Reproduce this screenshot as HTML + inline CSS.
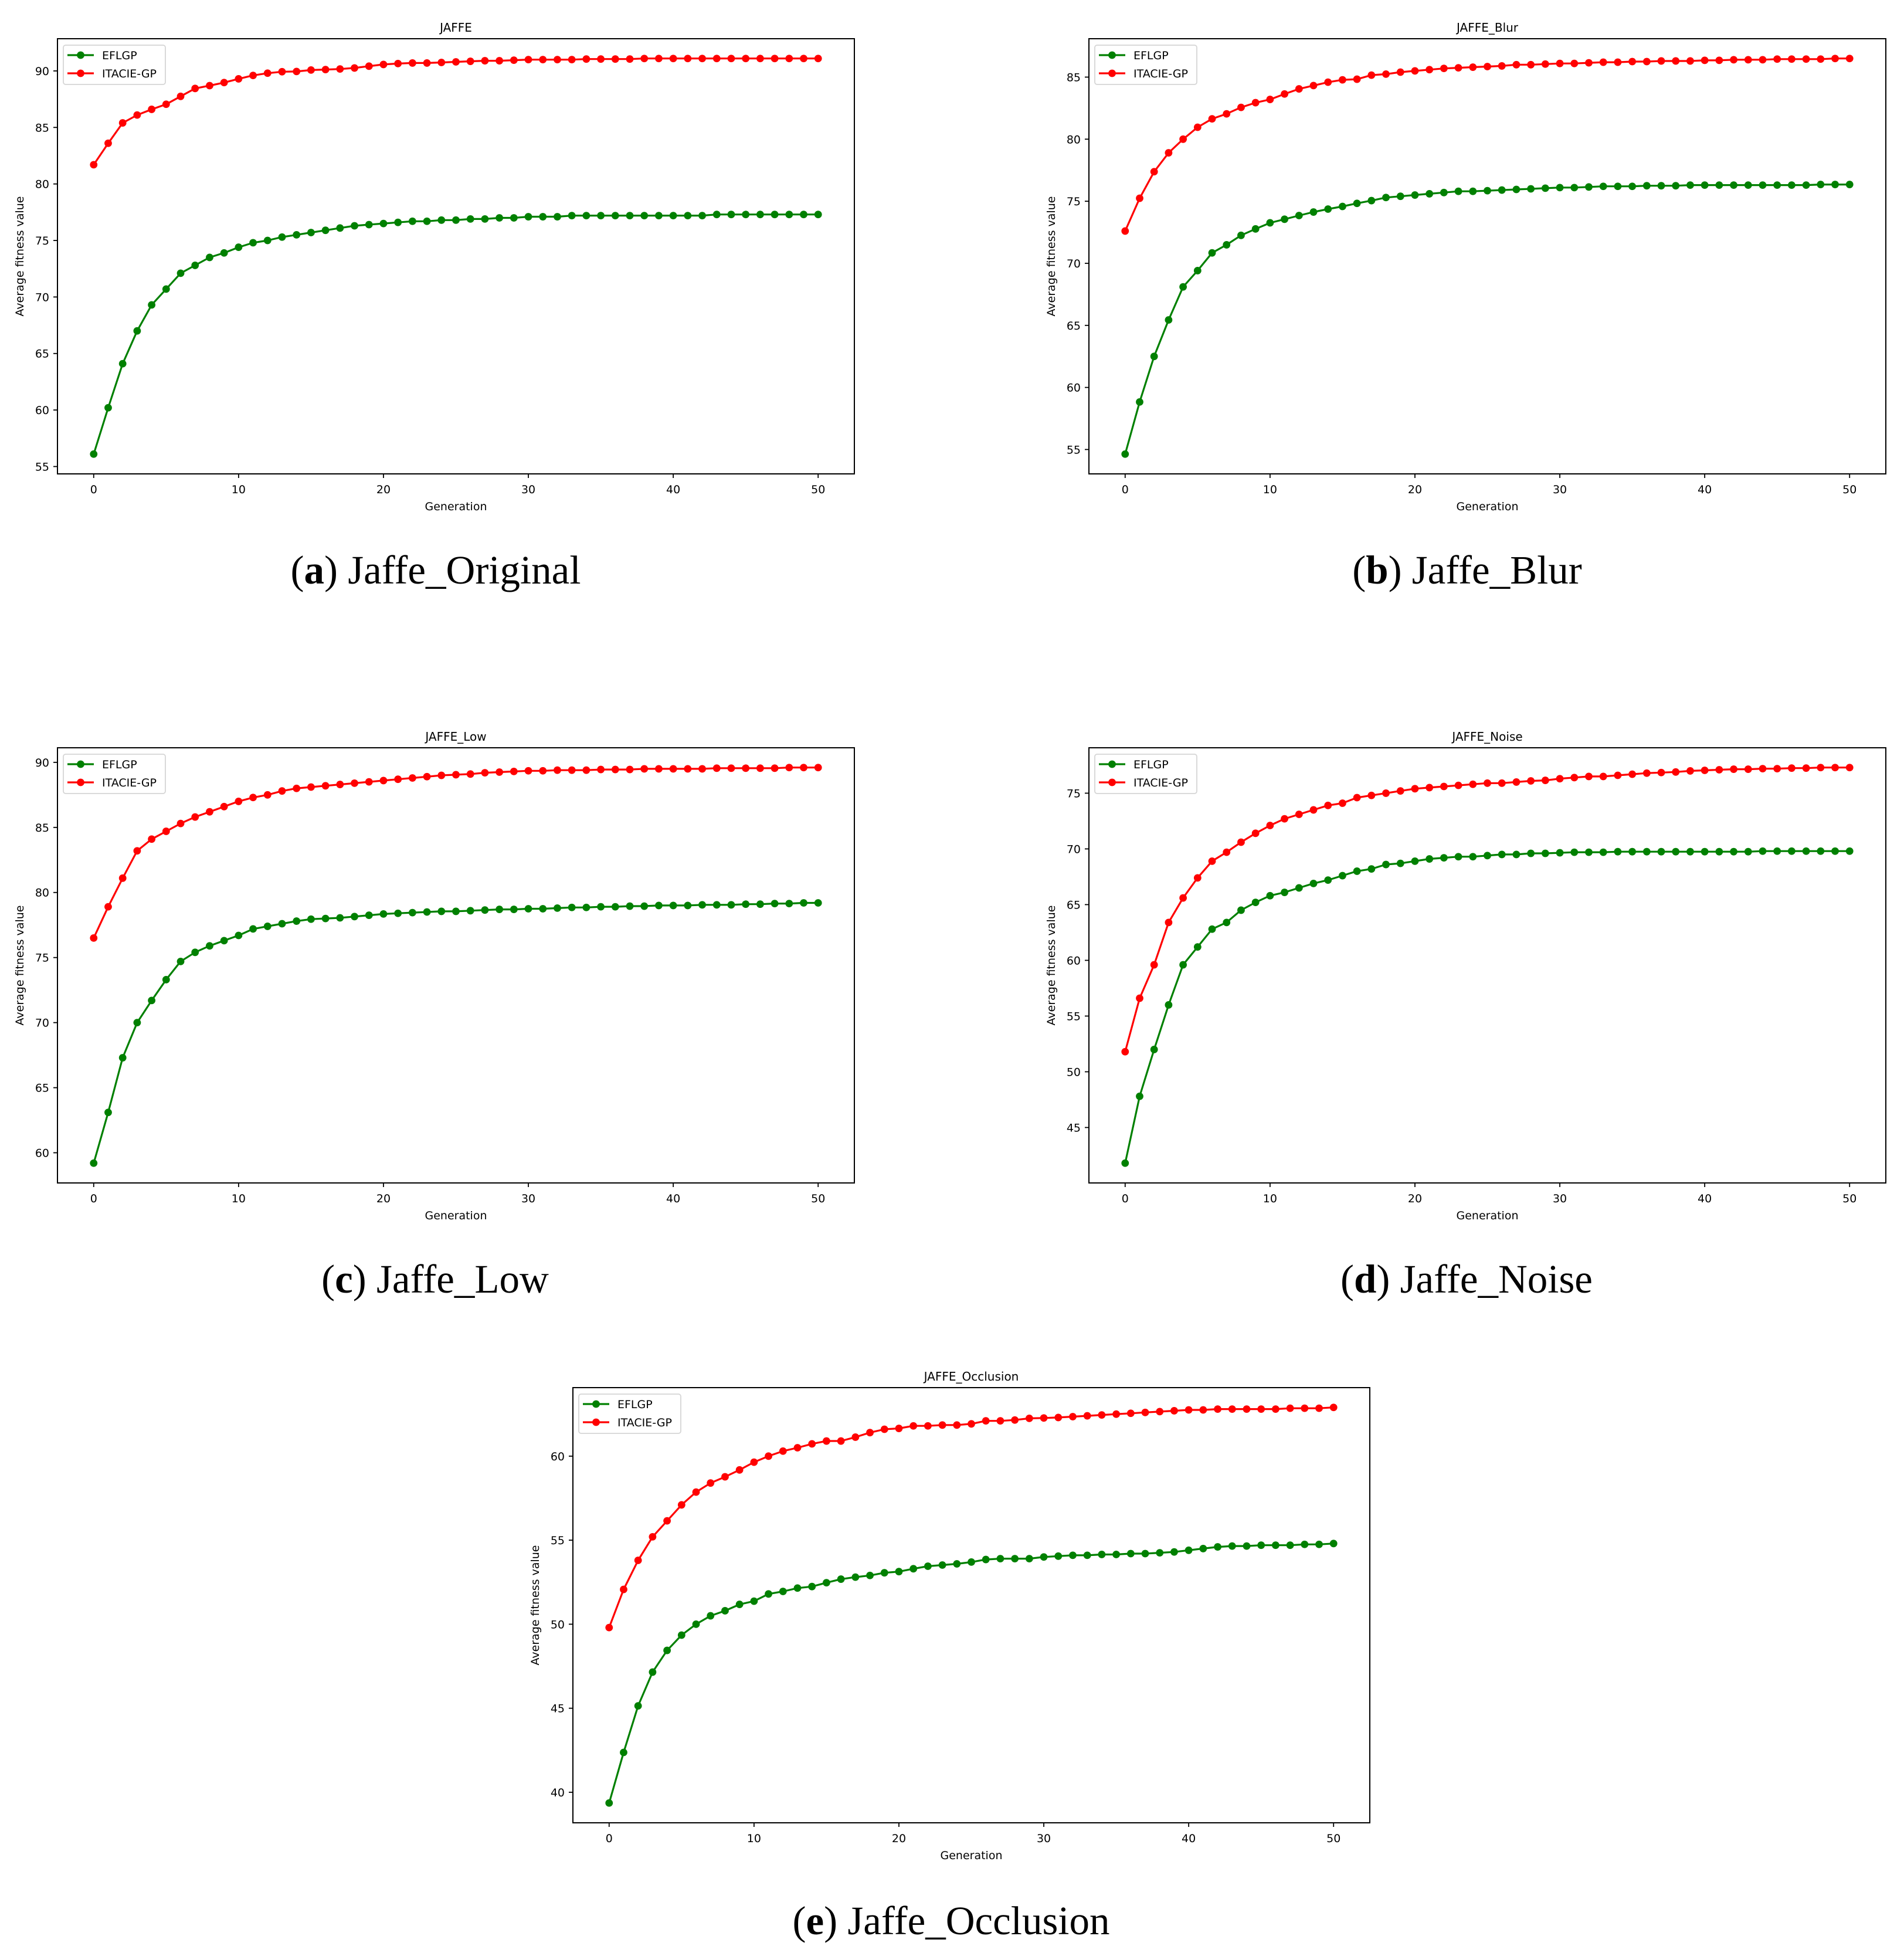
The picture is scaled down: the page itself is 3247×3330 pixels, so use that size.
<!DOCTYPE html>
<html><head><meta charset="utf-8"><title>JAFFE fitness curves</title>
<style>
html,body{margin:0;padding:0;background:#fff;}
svg{display:block;}
</style></head>
<body>
<svg id="fig" width="3247" height="3330" viewBox="0 0 3247 3330" xmlns="http://www.w3.org/2000/svg"></svg>
<script>
const generations = Array.from({length:51},(_,i)=>i);
const xTicks = [0,10,20,30,40,50];
const legendLabels = ["EFLGP","ITACIE-GP"];
const titles = ["JAFFE","JAFFE_Blur","JAFFE_Low","JAFFE_Noise","JAFFE_Occlusion"];
const captionLetters = ["a","b","c","d","e"];
const captionNames = ["Jaffe_Original","Jaffe_Blur","Jaffe_Low","Jaffe_Noise","Jaffe_Occlusion"];

const origEFLGP = [56.1,60.2,64.1,67.0,69.3,70.7,72.1,72.8,73.5,73.9,74.4,74.8,75.0,75.3,75.5,75.7,75.9,76.1,76.3,76.4,76.5,76.6,76.7,76.7,76.8,76.8,76.9,76.9,77.0,77.0,77.1,77.1,77.1,77.2,77.2,77.2,77.2,77.2,77.2,77.2,77.2,77.2,77.2,77.3,77.3,77.3,77.3,77.3,77.3,77.3,77.3];
const origITACIE = [81.7,83.6,85.4,86.1,86.6,87.05,87.75,88.45,88.7,88.97,89.3,89.6,89.8,89.93,89.95,90.08,90.12,90.17,90.26,90.42,90.57,90.65,90.7,90.7,90.75,90.8,90.85,90.9,90.9,90.95,91.0,91.0,91.0,91.0,91.05,91.05,91.05,91.05,91.1,91.1,91.1,91.1,91.1,91.1,91.1,91.1,91.1,91.1,91.1,91.1,91.1];
const blurEFLGP = [54.63,58.83,62.5,65.44,68.1,69.41,70.84,71.49,72.25,72.77,73.26,73.55,73.85,74.13,74.37,74.58,74.83,75.05,75.3,75.4,75.5,75.6,75.7,75.8,75.8,75.85,75.9,75.95,76.0,76.05,76.1,76.1,76.15,76.2,76.2,76.2,76.25,76.25,76.25,76.3,76.3,76.3,76.3,76.3,76.3,76.3,76.3,76.3,76.35,76.35,76.35];
const blurITACIE = [72.6,75.24,77.38,78.9,80.0,80.96,81.64,82.04,82.56,82.94,83.2,83.64,84.05,84.32,84.59,84.78,84.83,85.16,85.24,85.4,85.5,85.6,85.7,85.75,85.8,85.85,85.9,86.0,86.0,86.05,86.1,86.1,86.15,86.2,86.2,86.25,86.25,86.3,86.3,86.3,86.35,86.35,86.4,86.4,86.4,86.45,86.45,86.45,86.45,86.5,86.5];
const lowEFLGP = [59.2,63.1,67.3,70.0,71.7,73.3,74.7,75.4,75.9,76.3,76.7,77.2,77.4,77.6,77.8,77.95,78.0,78.05,78.15,78.25,78.35,78.4,78.45,78.5,78.55,78.55,78.6,78.65,78.7,78.7,78.75,78.75,78.8,78.85,78.85,78.9,78.9,78.95,78.95,79.0,79.0,79.0,79.05,79.05,79.05,79.1,79.1,79.15,79.15,79.2,79.2];
const lowITACIE = [76.5,78.9,81.1,83.2,84.1,84.7,85.3,85.8,86.2,86.6,87.0,87.3,87.5,87.8,88.0,88.1,88.2,88.3,88.4,88.5,88.6,88.7,88.8,88.9,89.0,89.05,89.1,89.2,89.25,89.3,89.35,89.35,89.4,89.4,89.4,89.45,89.45,89.45,89.5,89.5,89.5,89.5,89.5,89.55,89.55,89.55,89.55,89.55,89.6,89.6,89.6];
const noiseEFLGP = [41.8,47.8,52.0,56.0,59.6,61.2,62.8,63.4,64.5,65.2,65.8,66.1,66.5,66.9,67.2,67.6,68.0,68.2,68.6,68.7,68.9,69.1,69.2,69.3,69.3,69.4,69.5,69.5,69.6,69.6,69.65,69.7,69.7,69.7,69.75,69.75,69.75,69.75,69.75,69.75,69.75,69.75,69.75,69.75,69.8,69.8,69.8,69.8,69.8,69.8,69.8];
const noiseITACIE = [51.8,56.6,59.6,63.4,65.6,67.4,68.9,69.7,70.6,71.4,72.1,72.7,73.1,73.5,73.9,74.1,74.6,74.8,75.0,75.2,75.4,75.5,75.6,75.7,75.8,75.9,75.9,76.0,76.1,76.15,76.3,76.4,76.5,76.5,76.6,76.7,76.8,76.85,76.9,77.0,77.05,77.1,77.15,77.15,77.2,77.2,77.25,77.25,77.3,77.3,77.3];
const occEFLGP = [39.36,42.37,45.14,47.15,48.44,49.35,50.0,50.5,50.8,51.18,51.37,51.8,51.95,52.15,52.24,52.47,52.68,52.8,52.9,53.06,53.13,53.3,53.45,53.52,53.59,53.7,53.85,53.9,53.9,53.9,54.0,54.05,54.1,54.1,54.15,54.15,54.2,54.2,54.25,54.3,54.4,54.5,54.6,54.65,54.65,54.7,54.7,54.7,54.75,54.75,54.8];
const occITACIE = [49.8,52.07,53.8,55.2,56.15,57.1,57.86,58.4,58.77,59.18,59.64,60.0,60.3,60.5,60.73,60.9,60.9,61.13,61.4,61.6,61.65,61.8,61.8,61.85,61.85,61.92,62.1,62.1,62.15,62.25,62.27,62.3,62.35,62.4,62.45,62.5,62.55,62.6,62.65,62.7,62.75,62.75,62.8,62.8,62.8,62.8,62.8,62.85,62.85,62.85,62.9];

const greenSeries = [origEFLGP, blurEFLGP, lowEFLGP, noiseEFLGP, occEFLGP];
const redSeries = [origITACIE, blurITACIE, lowITACIE, noiseITACIE, occITACIE];

const NS = "http://www.w3.org/2000/svg";
const svg = document.getElementById("fig");
function mk(tag, attrs, parent){
  const e = document.createElementNS(NS, tag);
  for (const k in attrs) e.setAttribute(k, attrs[k]);
  (parent||svg).appendChild(e);
  return e;
}
const panels = [
  {x:98, y:66},
  {x:1857, y:66},
  {x:98, y:1275},
  {x:1857, y:1275},
  {x:977, y:2366}
];
const W = 1359, H = 742;
const captionPos = [[743,995],[2502,995],[742,2204],[2501,2204],[1622,3298]];
const FONT = "DejaVu Sans, Liberation Sans, sans-serif";

panels.forEach((p, i) => {
  const g = mk("g", {});
  
  
  const gs = greenSeries[i], rs = redSeries[i];
  const all = gs.concat(rs);
  const mn = Math.min(...all), mx = Math.max(...all);
  const pad = (mx - mn) * 0.05;
  const y0 = mn - pad, y1 = mx + pad;
  const x0 = -2.5, x1 = 52.5;
  const sx = v => p.x + (v - x0) / (x1 - x0) * W;
  const sy = v => p.y + H - (v - y0) / (y1 - y0) * H;

  const t = mk("text", {x: p.x + W/2, y: p.y - 12, "text-anchor":"middle", "font-family":FONT, "font-size":20, fill:"#000"}, g);
  t.textContent = titles[i];
  
  

  xTicks.forEach(v => {
    const X = sx(v);
    mk("line", {x1:X, x2:X, y1:p.y+H, y2:p.y+H+7, stroke:"#000", "stroke-width":1.8}, g);
    const tl = mk("text", {x:X, y:p.y+H+33, "text-anchor":"middle", "font-family":FONT, "font-size":19}, g);
    tl.textContent = v;
    
    
  });
  for (let v = Math.ceil(y0/5)*5; v <= y1; v += 5) {
    const Y = sy(v);
    mk("line", {x1:p.x-7, x2:p.x, y1:Y, y2:Y, stroke:"#000", "stroke-width":1.8}, g);
    const tl = mk("text", {x:p.x-14, y:Y+7, "text-anchor":"end", "font-family":FONT, "font-size":19}, g);
    tl.textContent = v;
    
    
  }
  const xl = mk("text", {x:p.x+W/2, y:p.y+H+62, "text-anchor":"middle", "font-family":FONT, "font-size":19}, g);
  xl.textContent = "Generation";
  
  
  const ylx = p.x - 58, yly = p.y + H/2;
  const yl = mk("text", {x:ylx, y:yly, "text-anchor":"middle", "font-family":FONT, "font-size":19, transform:`rotate(-90 ${ylx} ${yly})`}, g);
  yl.textContent = "Average fitness value";
  
  

  [[gs,"#008000","eflgp"],[rs,"#ff0000","itacie-gp"]].forEach(([s,c,nm]) => {
    const pts = s.map((v,k) => sx(generations[k]).toFixed(1)+","+sy(v).toFixed(1)).join(" ");
    const pl = mk("polyline", {points:pts, fill:"none", stroke:c, "stroke-width":3.2, "stroke-linejoin":"round"}, g);
    
    
    s.forEach((v,k) => {
      const ci = mk("circle", {cx:sx(generations[k]), cy:sy(v), r:6.4, fill:c}, g);
      
      
    });
  });

  const fr = mk("rect", {x:p.x, y:p.y, width:W, height:H, fill:"none", stroke:"#000", "stroke-width":2}, g);
  
  

  const lg = mk("g", {}, g);
  
  
  mk("rect", {x:p.x+10, y:p.y+11, width:174, height:67, rx:4, fill:"#fff", "fill-opacity":0.8, stroke:"#d5d5d5", "stroke-width":1.8}, lg);
  legendLabels.forEach((lab, k) => {
    const c = k===0 ? "#008000" : "#ff0000";
    const ly = p.y + 28 + k*31;
    mk("line", {x1:p.x+17, x2:p.x+62, y1:ly, y2:ly, stroke:c, "stroke-width":3.2}, lg);
    mk("circle", {cx:p.x+39.5, cy:ly, r:6.4, fill:c}, lg);
    const lt = mk("text", {x:p.x+76, y:ly+7, "font-family":FONT, "font-size":19}, lg);
    lt.textContent = lab;
    
    
  });

  const cp = captionPos[i];
  const cap = mk("text", {x:cp[0], y:cp[1], "text-anchor":"middle", "font-family":"Liberation Serif, serif", "font-size":69}, svg);
  
  
  const t1 = mk("tspan", {}, cap); t1.textContent = "(";
  const t2 = mk("tspan", {"font-weight":"bold"}, cap); t2.textContent = captionLetters[i];
  const t3 = mk("tspan", {}, cap); t3.textContent = ") " + captionNames[i];
});
</script>
</body></html>
